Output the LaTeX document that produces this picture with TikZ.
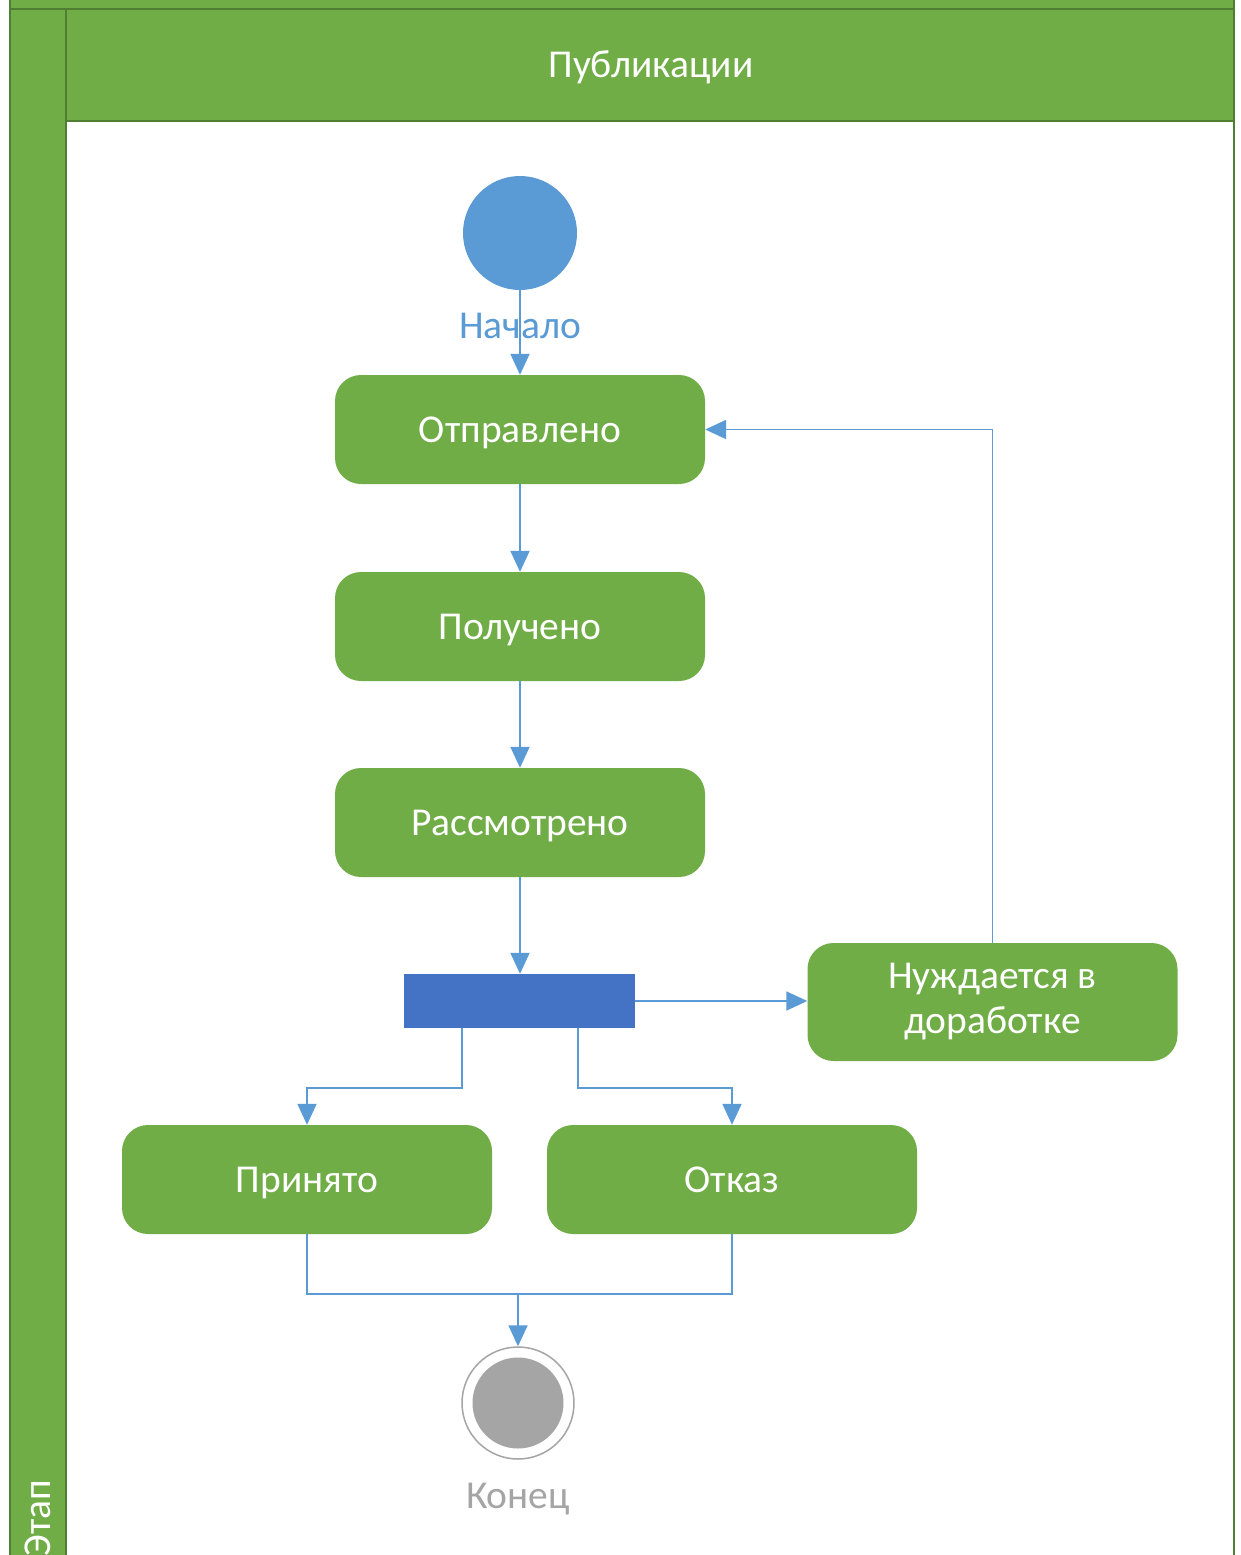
\documentclass[tikz,border=0pt]{standalone}
\usepackage{fontspec}
\setmainfont{Carlito}
\usetikzlibrary{arrows.meta,positioning}
\definecolor{lanegreen}{HTML}{70AD47}
\definecolor{laneedge}{HTML}{507E32}
\definecolor{flowblue}{HTML}{5B9BD5}
\definecolor{barblue}{HTML}{4472C4}
\definecolor{endgray}{HTML}{A5A5A5}
\tikzset{
  bigfont/.style={font=\fontsize{39.5}{45}\selectfont},
  stateshape/.style={draw=none, fill=lanegreen, rounded corners=26pt, minimum width=370pt,
    minimum height=109pt, text=white, align=center, inner sep=0pt, bigfont},
  state/.style={stateshape, text height=33pt, text depth=8pt},
  flow/.style={draw=flowblue, line width=1.9pt, -{Triangle[length=21pt,width=19pt]}},
  flowline/.style={draw=flowblue, line width=1.9pt},
  lane/.style={fill=lanegreen, draw=laneedge, line width=2pt},
}
\begin{document}
\begin{tikzpicture}[x=1pt,y=-1pt]
\useasboundingbox (0,0) rectangle (1240,1555);
\clip (0,0) rectangle (1240,1555);
% swimlane frame
\fill[white] (0,0) rectangle (1240,1555);
\draw[lane] (10,-20) rectangle (1234,9);
\draw[lane] (10,9) rectangle (66,1600);
\draw[lane] (66,9) rectangle (1234,121);
\draw[laneedge, line width=2pt] (1234,121) -- (1234,1600);
\node[text=white, bigfont] (title) at (651,67) {Публикации};
\node[text=white, rotate=90, anchor=base east, inner sep=0pt, bigfont]
  (stage) at (50,1480) {Этап};

% initial state
\node[circle, fill=flowblue, minimum size=114pt, inner sep=0pt] (start) at (520,233) {};
% activity states
\node[state] (sent) at (520,429.5) {Отправлено};
\node[state] (recv) at (520,626.5) {Получено};
\node[state] (rev) at (520,822.5) {Рассмотрено};
\node[stateshape, minimum height=118pt] (rework) at (992.5,1002) {Нуждается в\\доработке};
\node[state] (acc) at (307,1179.5) {Принято};
\node[state] (rej) at (732,1179.5) {Отказ};
% decision bar
\node[fill=barblue, minimum width=231pt, minimum height=54pt, inner sep=0pt] (bar) at (519.5,1001) {};
% final state
\node[circle, draw=endgray, line width=1.5pt, fill=white, minimum size=112pt, inner sep=0pt] (fin) at (518,1403) {};
\node[circle, fill=endgray, minimum size=91pt, inner sep=0pt] at (fin.center) {};

% transitions
\draw[flow] (start) -- (sent);
\node[text=flowblue, bigfont] (startlbl) at (520,326) {Начало};
\draw[flow] (sent) -- (recv);
\draw[flow] (recv) -- (rev);
\draw[flow] (rev.south) -- (rev.south |- bar.north);
\draw[flow] (bar.east) -- (bar.east -| rework.west);
\draw[flow] (rework.north) |- (sent.east);
\coordinate (splitL) at (462,1088);
\coordinate (splitR) at (578,1088);
\draw[flow] (bar.south -| splitL) -- (splitL) -| (acc.north);
\draw[flow] (bar.south -| splitR) -- (splitR) -| (rej.north);
\coordinate (join) at (518,1294);
\draw[flowline] (acc.south) |- (join);
\draw[flowline] (rej.south) |- (join);
\draw[flow] (join) -- (fin.north);
\node[text=endgray, bigfont] (finlbl) at (518,1499) {Конец};
\end{tikzpicture}
\end{document}
